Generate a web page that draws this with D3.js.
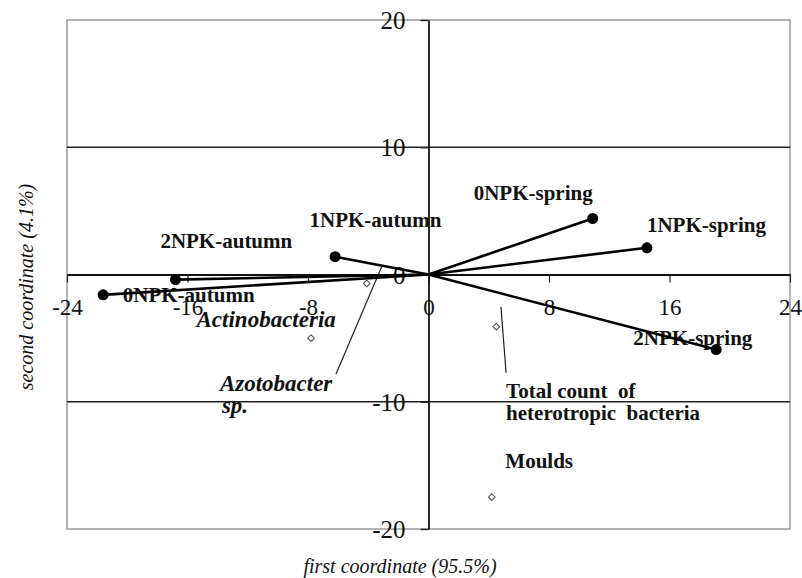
<!DOCTYPE html>
<html>
<head>
<meta charset="utf-8">
<script src="https://cdn.jsdelivr.net/npm/d3@7"></script>
<style>
  body { margin: 0; background: #fff; }
  svg { display: block; }
  text { font-family: "Liberation Serif", "Times New Roman", serif; fill: #111; white-space: pre; }
</style>
</head>
<body>
<div id="chart"></div>
<script>
// ordination plot: fertilisation/season sites and microbial groups
const sites = ["0NPK-spring", "1NPK-spring", "2NPK-spring", "1NPK-autumn", "2NPK-autumn", "0NPK-autumn"];
const siteX = [10.9, 14.5, 19.1, -6.2, -16.8, -21.6];
const siteY = [4.4, 2.1, -5.9, 1.4, -0.4, -1.6];
// where each site label starts (data units)
const siteLabelX = [3.0, 14.5, 13.6, -7.9, -17.8, -20.3];
const siteLabelY = [5.85, 3.35, -5.55, 3.7, 2.05, -2.15];

const microbes = ["Total count of heterotropic bacteria", "Azotobacter sp.", "Actinobacteria", "Moulds"];
const microbeX = [4.5, -4.1, -7.8, 4.2];
const microbeY = [-4.1, -0.7, -5.0, -17.5];
const microbeLines = [["Total count  of", "heterotropic  bacteria"], ["Azotobacter", "sp."], ["Actinobacteria"], ["Moulds"]];
const microbeItalic = [false, true, true, false];
const microbeLabelX = [5.15, -13.85, -15.4, 5.1];
const microbeLabelY = [-9.7, -9.15, -4.1, -15.2];
// leader lines from label to marker
const leaderFrom = [[5.15, -7.72], [-6.14, -7.82]];
const leaderTo = [[4.81, -2.53], [-3.11, 0.61]];

const xTicks = [-24, -16, -8, 0, 8, 16, 24];
const yTicks = [-20, -10, 0, 10, 20];
const xTitle = "first coordinate (95.5%)";
const yTitle = "second coordinate (4.1%)";

const W = 802, H = 578;
const svg = d3.select("#chart").append("svg").attr("width", W).attr("height", H);

const x = d3.scaleLinear().domain([-24, 24]).range([67, 790]);
const y = d3.scaleLinear().domain([-20, 20]).range([529, 20]);
const fmt = d => String(d); // plain hyphen, like the original

// frame
svg.append("rect")
    .attr("x", x(-24)).attr("y", y(20))
    .attr("width", x(24) - x(-24)).attr("height", y(-20) - y(20))
    .attr("fill", "none").attr("stroke", "#8a8a8a").attr("stroke-width", 1.3);

// horizontal grid at +-10
svg.selectAll(".grid")
    .data([-10, 10])
    .enter().append("line")
    .attr("x1", x(-24)).attr("x2", x(24))
    .attr("y1", d => y(d)).attr("y2", d => y(d))
    .attr("stroke", "#222").attr("stroke-width", 1.4);

// axes through the origin
const xAxis = svg.append("g")
    .attr("transform", `translate(0,${y(0)})`)
    .call(d3.axisBottom(x).tickValues(xTicks).tickSize(8).tickSizeOuter(0).tickFormat(fmt))
    .attr("font-family", "'Liberation Serif', serif");
xAxis.select(".domain").attr("stroke", "#111").attr("stroke-width", 1.8);
xAxis.selectAll(".tick line").attr("stroke", "#222").attr("stroke-width", 1.2);
xAxis.selectAll(".tick text")
    .attr("y", 40).attr("dy", 0)
    .attr("font-size", 23).attr("fill", "#111");

const yAxis = svg.append("g")
    .attr("transform", `translate(${x(0)},0)`)
    .call(d3.axisLeft(y).tickValues(yTicks).tickSize(8).tickSizeOuter(0).tickFormat(fmt))
    .attr("font-family", "'Liberation Serif', serif");
yAxis.select(".domain").attr("stroke", "#111").attr("stroke-width", 1.8);
yAxis.selectAll(".tick line").attr("stroke", "#222").attr("stroke-width", 1.4);
yAxis.selectAll(".tick text")
    .attr("x", -23).attr("dy", "0.34em")
    .attr("font-size", 25).attr("fill", "#111");

// site labels (drawn first so the vectors pass over them)
svg.selectAll(".site-label")
    .data(sites)
    .enter().append("text")
    .attr("class", "site-label")
    .attr("x", (d, i) => x(siteLabelX[i]))
    .attr("y", (d, i) => y(siteLabelY[i]))
    .attr("font-size", 21)
    .attr("font-weight", "bold")
    .text(d => d);

// microbe labels
microbes.forEach((m, i) => {
    const t = svg.append("text")
        .attr("x", x(microbeLabelX[i]))
        .attr("y", y(microbeLabelY[i]))
        .attr("font-size", microbeItalic[i] ? 23 : 21)
        .attr("font-weight", "bold")
        .attr("font-style", microbeItalic[i] ? "italic" : "normal");
    microbeLines[i].forEach((line, j) => {
        t.append("tspan")
            .attr("x", x(microbeLabelX[i]) + (j > 0 && microbeItalic[i] ? 2 : 0))
            .attr("dy", j === 0 ? 0 : 22)
            .text(line);
    });
});

// leader lines
svg.selectAll(".leader")
    .data(leaderFrom)
    .enter().append("line")
    .attr("x1", d => x(d[0])).attr("y1", d => y(d[1]))
    .attr("x2", (d, i) => x(leaderTo[i][0])).attr("y2", (d, i) => y(leaderTo[i][1]))
    .attr("stroke", "#222").attr("stroke-width", 1.2);

// site vectors from the origin
svg.selectAll(".vector")
    .data(sites)
    .enter().append("line")
    .attr("x1", x(0)).attr("y1", y(0))
    .attr("x2", (d, i) => x(siteX[i])).attr("y2", (d, i) => y(siteY[i]))
    .attr("stroke", "#000").attr("stroke-width", 2.6);

svg.selectAll(".site")
    .data(sites)
    .enter().append("circle")
    .attr("cx", (d, i) => x(siteX[i]))
    .attr("cy", (d, i) => y(siteY[i]))
    .attr("r", 5.5)
    .attr("fill", "#000");

// microbe markers: small open diamonds
svg.selectAll(".microbe")
    .data(microbes)
    .enter().append("path")
    .attr("d", d3.symbol().type(d3.symbolDiamond2).size(28))
    .attr("transform", (d, i) => `translate(${x(microbeX[i])},${y(microbeY[i])})`)
    .attr("fill", "#fff").attr("stroke", "#555").attr("stroke-width", 1.1);

// axis titles
svg.append("text")
    .attr("x", 400).attr("y", 573)
    .attr("text-anchor", "middle")
    .attr("font-size", 20).attr("font-style", "italic")
    .attr("fill", "#222")
    .text(xTitle);

svg.append("text")
    .attr("transform", `translate(33,287) rotate(-90)`)
    .attr("text-anchor", "middle")
    .attr("font-size", 20).attr("font-style", "italic")
    .attr("fill", "#222")
    .text(yTitle);
</script>
</body>
</html>
